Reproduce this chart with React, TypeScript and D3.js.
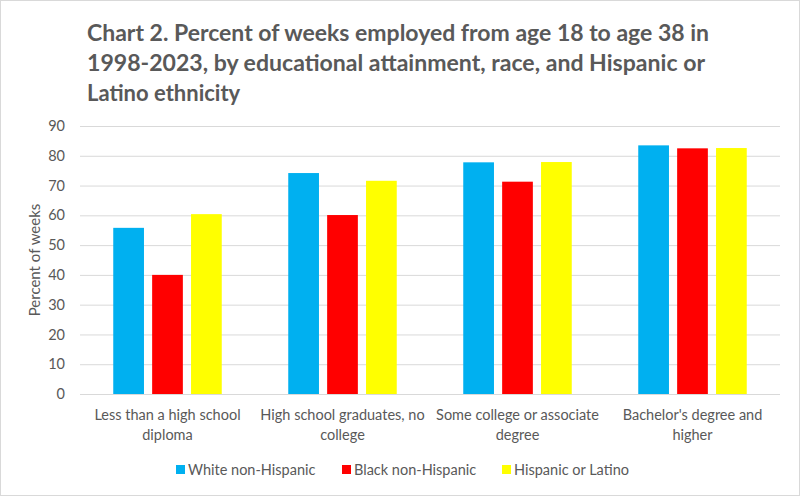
import React, { useEffect, useRef } from 'react';
import * as d3 from 'd3';

const categories = [
  'Less than a high school\ndiploma',
  'High school graduates, no\ncollege',
  'Some college or associate\ndegree',
  "Bachelor's degree and\nhigher",
];
const seriesNames = ['White non-Hispanic', 'Black non-Hispanic', 'Hispanic or Latino'];
const seriesColors = ['#00B0F0', '#FF0000', '#FFFF00'];
const whiteValues = [55.8, 74.2, 77.8, 83.5];
const blackValues = [40.0, 60.1, 71.3, 82.5];
const hispanicValues = [60.4, 71.6, 77.9, 82.6];
const yTicks = [0, 10, 20, 30, 40, 50, 60, 70, 80, 90];
const titleLines = [
  'Chart 2. Percent of weeks employed from age 18 to age 38 in',
  '1998-2023, by educational attainment, race, and Hispanic or',
  'Latino ethnicity',
];

const FONT = 'Lato, "Open Sans", sans-serif';
const TEXT = '#595959';

export default function App() {
  const svgRef = useRef<SVGSVGElement>(null);

  useEffect(() => {
    if (!svgRef.current) return;
    const W = 800, H = 496;
    const margin = { top: 126, right: 20, bottom: 102, left: 80 };
    const svg = d3.select(svgRef.current);
    svg.selectAll('*').remove();
    svg.attr('width', W).attr('height', H);

    // chart frame
    svg.append('rect')
      .attr('x', 0.5).attr('y', 0.5)
      .attr('width', W - 1).attr('height', H - 1)
      .attr('fill', '#fff').attr('stroke', '#D9D9D9');

    // title
    const title = svg.append('g');
    titleLines.forEach((line, i) => {
      const t = title.append('text')
        .attr('x', 87).attr('y', 41 + i * 30)
        .attr('fill', TEXT)
        .style('font-family', FONT)
        .style('font-size', '22px')
        .style('font-weight', 'bold')
        .text(line);
      if (i < 2) t.attr('textLength', i === 0 ? 622 : 618).attr('lengthAdjust', 'spacingAndGlyphs');
    });

    const x0 = d3.scaleBand<string>()
      .domain(categories)
      .range([margin.left, W - margin.right])
      .padding(0);
    const x1 = d3.scaleBand<string>()
      .domain(seriesNames)
      .range([0, x0.bandwidth()])
      .paddingInner(0.21)
      .paddingOuter(0.855);
    const y = d3.scaleLinear()
      .domain([0, 90])
      .range([H - margin.bottom, margin.top]);

    // grid + y axis
    const yAxis = svg.append('g')
      .attr('transform', `translate(${margin.left},0)`)
      .call(d3.axisLeft(y).tickValues(yTicks).tickSize(-(W - margin.left - margin.right)).tickPadding(15));
    yAxis.select('.domain').remove();
    yAxis.selectAll('.tick line').attr('stroke', '#D9D9D9').attr('stroke-width', 1);
    yAxis.selectAll('.tick text')
      .attr('fill', TEXT)
      .style('font-family', FONT)
      .style('font-size', '14.5px');

    svg.append('text')
      .attr('transform', `translate(40,${(y(0) + y(90)) / 2}) rotate(-90)`)
      .attr('text-anchor', 'middle')
      .attr('fill', TEXT)
      .style('font-family', FONT)
      .style('font-size', '15px')
      .text('Percent of weeks');

    // bars
    const seriesValues = [whiteValues, blackValues, hispanicValues];
    const rows = categories.flatMap((c, ci) =>
      seriesNames.map((s, si) => ({ c, s, si, v: seriesValues[si][ci] })));
    svg.append('g').selectAll('rect')
      .data(rows)
      .enter().append('rect')
      .attr('x', d => (x0(d.c) as number) + (x1(d.s) as number))
      .attr('y', d => y(d.v))
      .attr('width', x1.bandwidth())
      .attr('height', d => y(0) - y(d.v))
      .attr('fill', d => seriesColors[d.si]);

    // category labels
    const xAxis = svg.append('g');
    categories.forEach(c => {
      const t = xAxis.append('text')
        .attr('x', (x0(c) as number) + x0.bandwidth() / 2)
        .attr('y', 420)
        .attr('text-anchor', 'middle')
        .attr('fill', TEXT)
        .style('font-family', FONT)
        .style('font-size', '14.5px');
      c.split('\n').forEach((line, i) => {
        t.append('tspan')
          .attr('x', (x0(c) as number) + x0.bandwidth() / 2)
          .attr('dy', i === 0 ? 0 : 19.5)
          .text(line);
      });
    });

    // legend
    const legendX = [176, 342, 502];
    const legend = svg.append('g');
    seriesNames.forEach((s, i) => {
      legend.append('rect')
        .attr('x', legendX[i]).attr('y', 465)
        .attr('width', 9).attr('height', 9)
        .attr('fill', seriesColors[i]);
      legend.append('text')
        .attr('x', legendX[i] + 12).attr('y', 475)
        .attr('fill', TEXT)
        .style('font-family', FONT)
        .style('font-size', '14.5px')
        .text(s);
    });
  }, []);

  return (
    <div style={{ position: 'absolute', left: 0, top: 0 }}>
      <svg ref={svgRef}></svg>
    </div>
  );
}
